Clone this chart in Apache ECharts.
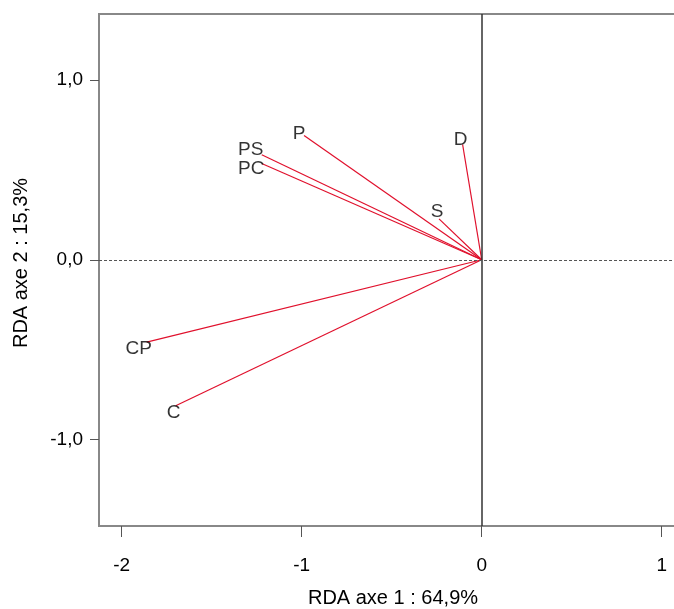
<!DOCTYPE html>
<html>
<head>
<meta charset="utf-8">
<script src="https://cdn.jsdelivr.net/npm/echarts@6/dist/echarts.min.js"></script>
<style>
html,body{margin:0;padding:0;background:#fff;}
#chart{width:674px;height:609px;}
</style>
</head>
<body>
<div id="chart"></div>
<script>
// Variable names and RDA coordinates (axis 1, axis 2)
const variables = ['P', 'PS', 'PC', 'D', 'S', 'CP', 'C'];
const axis1 = [-0.987, -1.222, -1.219, -0.106, -0.237, -1.861, -1.700];
const axis2 = [0.692, 0.585, 0.535, 0.642, 0.228, -0.459, -0.813];
const xTicks = [-2, -1, 0, 1];
const yTicks = [-1, 0, 1];
const xName = 'RDA axe 1 : 64,9%';
const yName = 'RDA axe 2 : 15,3%';

// label pixel offsets relative to the arrow tip (style only)
const labelOffsets = {
  P: [-5, -2], PS: [-11, -5], PC: [-11, 5], D: [-2, -5],
  S: [-2, -7], CP: [-8, 7], C: [-2, 7]
};

const FONT = 'Liberation Sans, Arial, sans-serif';
const RED = '#e0102c';

const arrowSeries = variables.map((v, i) => ({
  type: 'line',
  name: v,
  data: [[0, 0], [axis1[i], axis2[i]]],
  symbol: 'none',
  silent: true,
  lineStyle: { color: RED, width: 1.2 },
  z: 3
}));

const labelSeries = {
  type: 'scatter',
  symbolSize: 0,
  silent: true,
  data: variables.map((v, i) => ({
    value: [axis1[i], axis2[i]],
    name: v,
    label: { offset: labelOffsets[v] }
  })),
  label: {
    show: true,
    position: 'inside',
    formatter: p => p.name,
    color: '#000',
    fontSize: 19,
    fontFamily: FONT
  },
  z: 4
};

const zeroSeries = {
  type: 'line',
  data: [],
  silent: true,
  markLine: {
    silent: true,
    symbol: 'none',
    label: { show: false },
    data: [
      { xAxis: 0, lineStyle: { color: '#333', width: 1.5, type: 'solid' } },
      { yAxis: 0, lineStyle: { color: '#555', width: 1, type: [3, 2] } }
    ]
  },
  z: 2
};

const chart = echarts.init(document.getElementById('chart'), null, { renderer: 'canvas' });
chart.setOption({
  animation: false,
  backgroundColor: '#fff',
  grid: {
    left: 99, top: 14, right: -3, bottom: 83,
    containLabel: false,
    outerBoundsMode: 'none',
    show: true, borderColor: '#888', borderWidth: 2, backgroundColor: 'transparent'
  },
  xAxis: {
    type: 'value',
    min: -2.126, max: 1.085,
    name: xName,
    nameLocation: 'middle',
    nameGap: 62,
    nameTextStyle: { fontSize: 20, fontFamily: FONT, color: '#000', padding: [0, 0, 0, 10] },
    axisLine: { show: true, onZero: false, lineStyle: { color: '#888', width: 2 } },
    axisTick: { show: true, length: 11, customValues: xTicks, lineStyle: { color: '#555', width: 1 } },
    axisLabel: { customValues: xTicks, margin: 30, fontSize: 19, fontFamily: FONT, color: '#000',
      formatter: v => String(v) },
    splitLine: { show: false }
  },
  yAxis: {
    type: 'value',
    min: -1.483, max: 1.369,
    name: yName,
    nameLocation: 'middle',
    nameGap: 68,
    nameTextStyle: { fontSize: 20, fontFamily: FONT, color: '#000', padding: [0, 0, 0, 14] },
    axisLine: { show: true, onZero: false, lineStyle: { color: '#888', width: 2 } },
    axisTick: { show: true, length: 9, customValues: yTicks, lineStyle: { color: '#555', width: 1 } },
    axisLabel: { customValues: yTicks, margin: 16, fontSize: 19, fontFamily: FONT, color: '#000',
      formatter: v => v.toFixed(1).replace('.', ',') },
    splitLine: { show: false }
  },
  series: [zeroSeries, ...arrowSeries, labelSeries]
});
</script>
</body>
</html>
